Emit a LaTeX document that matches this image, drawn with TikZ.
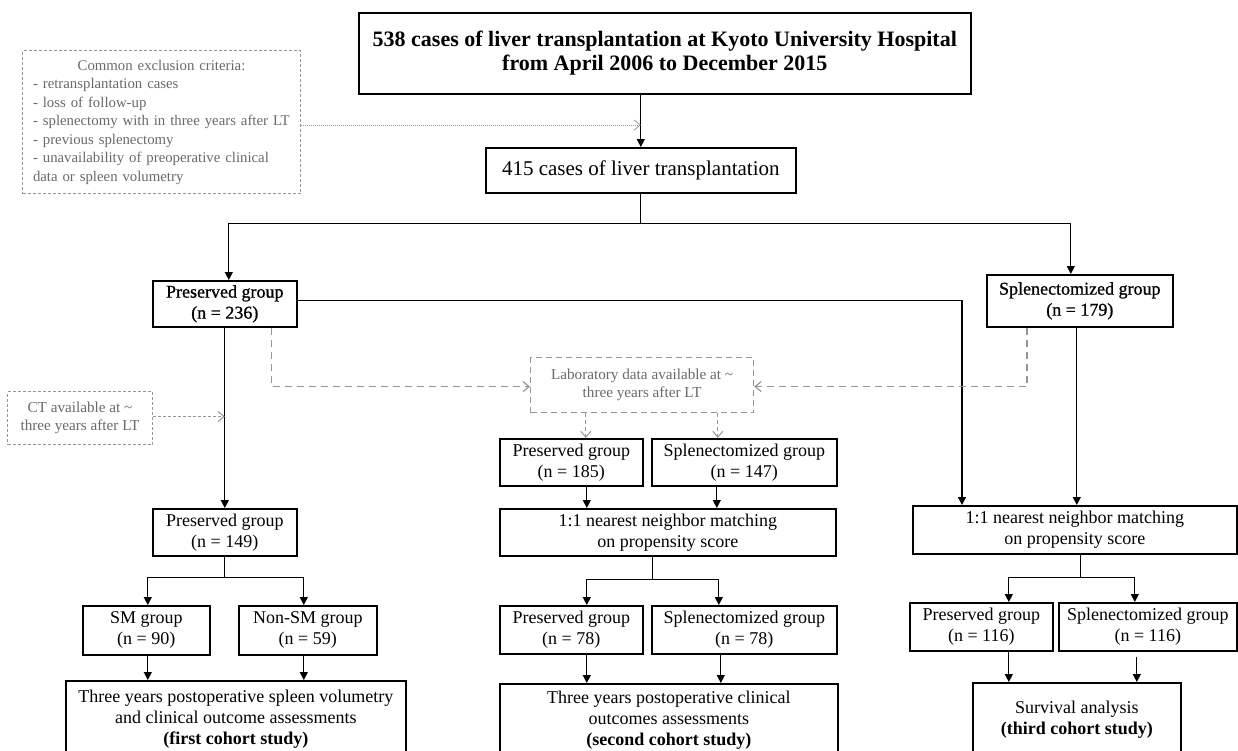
\documentclass[tikz,border=0pt]{standalone}
\usepackage{fontspec}
\setmainfont{Liberation Serif}
\newfontfamily\heavyfont[FakeBold=1.0]{Liberation Serif}
\usetikzlibrary{arrows.meta}
\definecolor{gtext}{RGB}{105,105,105}
\definecolor{gline}{RGB}{150,150,150}
\begin{document}
\begin{tikzpicture}[x=1pt,y=-1pt,
  box/.style={draw=black, line width=1.6pt, inner sep=0pt, align=center, anchor=north west,
    font=\fontsize{18}{21}\selectfont},
  gbox/.style={draw=gline, line width=1pt, inner sep=0pt, align=center, anchor=north west,
    text=gtext, font=\fontsize{15.2}{18}\selectfont},
  arr/.style={line width=1.3pt, -{Triangle[width=8pt,length=8pt]}},
  garr/.style={draw=gline, line width=1.2pt, -{Straight Barb[width=10pt,length=6pt]}},
]
\clip (0,0) rectangle (1238,750);
\useasboundingbox (0,0) rectangle (1238,750);

% nodes
\node[box, minimum width=612pt, minimum height=81pt, font=\fontsize{22}{24}\selectfont\bfseries] (top) at (358,12)
  {538 cases of liver transplantation at Kyoto University Hospital\\from April 2006 to December 2015};
\node[box, minimum width=310pt, minimum height=45pt, font=\fontsize{21}{22}\selectfont] (n415) at (485,147)
  {415 cases of liver transplantation};
\node[gbox, dash pattern=on 3pt off 2pt, minimum width=278pt, minimum height=143pt, text width=257pt, align=left,
  font=\fontsize{14.8}{18.5}\selectfont] (excl) at (22,50)
  {\makebox[\linewidth]{Common exclusion criteria:}\\
   - retransplantation cases\\
   - loss of follow-up\\
   - splenectomy with in three years after LT\\
   - previous splenectomy\\
   - unavailability of preoperative clinical\\
   data or spleen volumetry};
\node[box, minimum width=144pt, minimum height=46pt, font=\fontsize{18}{21}\heavyfont] (p236) at (152,280)
  {Preserved group\\(n = 236)};
\node[box, minimum width=186pt, minimum height=52pt, font=\fontsize{18}{21}\heavyfont] (s179) at (986,274)
  {Splenectomized group\\(n = 179)};
\node[gbox, dash pattern=on 6pt off 4pt, line width=1.2pt, minimum width=223pt, minimum height=55pt] (lab) at (530,357)
  {Laboratory data available at \char`\~\\three years after LT};
\node[gbox, dash pattern=on 3pt off 2pt, minimum width=145pt, minimum height=53pt] (ct) at (7,391)
  {CT available at \char`\~\\three years after LT};
\node[box, minimum width=143pt, minimum height=47pt] (p185) at (499,438) {Preserved group\\(n = 185)};
\node[box, minimum width=185pt, minimum height=47pt] (s147) at (651,438) {Splenectomized group\\(n = 147)};
\node[box, minimum width=336pt, minimum height=47pt] (m2) at (499,508) {1:1 nearest neighbor matching\\on propensity score};
\node[box, minimum width=144pt, minimum height=47pt] (p149) at (152,508) {Preserved group\\(n = 149)};
\node[box, minimum width=324pt, minimum height=48pt] (m3) at (912,505) {1:1 nearest neighbor matching\\on propensity score};
\node[box, minimum width=127pt, minimum height=49pt] (sm) at (82,605) {SM group\\(n = 90)};
\node[box, minimum width=138pt, minimum height=49pt] (nsm) at (238,605) {Non-SM group\\(n = 59)};
\node[box, minimum width=143pt, minimum height=48pt] (p78) at (499,605) {Preserved group\\(n = 78)};
\node[box, minimum width=185pt, minimum height=48pt] (s78) at (651,605) {Splenectomized group\\(n = 78)};
\node[box, minimum width=143pt, minimum height=48pt] (p116) at (909,602) {Preserved group\\(n = 116)};
\node[box, minimum width=178pt, minimum height=48pt] (s116) at (1058,602) {Splenectomized group\\(n = 116)};
\node[box, minimum width=340pt, minimum height=76pt] (f1) at (65,680)
  {Three years postoperative spleen volumetry\\and clinical outcome assessments\\\textbf{(first cohort study)}};
\node[box, minimum width=338pt, minimum height=72pt] (f2) at (499,683)
  {Three years postoperative clinical\\outcomes assessments\\\textbf{(second cohort study)}};
\node[box, minimum width=208pt, minimum height=73pt] (f3) at (972,682)
  {Survival analysis\\\textbf{(third cohort study)}};

% connectors
\draw[arr] (top.south -| n415.north) -- (n415.north);
\draw[garr, line width=0.8pt, dash pattern=on 1pt off 1pt] ([yshift=-3pt]excl.east) -- ([yshift=-3pt]excl.east -| n415.north);
\coordinate (b1) at ([yshift=-30pt]n415.south);
\draw[line width=1.3pt] (n415.south) -- (b1);
\draw[arr] (b1) -| ([xshift=4pt]p236.north);
\draw[arr] (b1) -| ([xshift=-9pt]s179.north);
\draw[arr] ([yshift=3pt]p236.east) -| ([xshift=50pt]m3.north west);
\draw[arr] ([xshift=-3pt]s179.south) -- ([xshift=-3pt]s179.south |- m3.north);
\draw[garr, dash pattern=on 7pt off 5pt] ([xshift=-26pt]p236.south east) |- ([yshift=-1.5pt]lab.west);
\draw[garr, dash pattern=on 7pt off 5pt] ([xshift=41pt]s179.south west) |- ([yshift=-1.5pt]lab.east);
\draw[garr, line width=1pt, dash pattern=on 4pt off 3pt] ([xshift=14.5pt]p185.north |- lab.south) -- ([xshift=14.5pt]p185.north);
\draw[garr, line width=1pt, dash pattern=on 4pt off 3pt] ([xshift=-26.5pt]s147.north |- lab.south) -- ([xshift=-26.5pt]s147.north);
\draw[arr] ([xshift=15.5pt]p185.south) -- ([xshift=15.5pt]p185.south |- m2.north);
\draw[arr] ([xshift=-27.5pt]s147.south) -- ([xshift=-27.5pt]s147.south |- m2.north);
\coordinate (b2) at ([xshift=-15pt,yshift=-23pt]m2.south);
\draw[line width=1.3pt] ([xshift=-15pt]m2.south) -- (b2);
\draw[arr] (b2) -| ([xshift=15.5pt]p78.north);
\draw[arr] (b2) -| ([xshift=-25.5pt]s78.north);
\draw[arr] ([xshift=15.5pt]p78.south) -- ([xshift=15.5pt]p78.south |- f2.north);
\draw[arr] ([xshift=-23.5pt]s78.south) -- ([xshift=-23.5pt]s78.south |- f2.north);
% left column
\draw[arr] (p236.south) -- (p149.north);
\draw[garr, line width=1pt, dash pattern=on 3pt off 2pt] ([yshift=1.5pt]ct.east) -- ([yshift=1.5pt]ct.east -| p236.south);
\coordinate (b3) at ([yshift=-21pt]p149.south);
\draw[line width=1.3pt] (p149.south) -- (b3);
\draw[arr] (b3) -| ([xshift=1.5pt]sm.north);
\draw[arr] (b3) -| ([xshift=-4pt]nsm.north);
\draw[arr] ([xshift=1.5pt]sm.south) -- ([xshift=1.5pt]sm.south |- f1.north);
\draw[arr] ([xshift=-4pt]nsm.south) -- ([xshift=-4pt]nsm.south |- f1.north);
% right column
\coordinate (b4) at ([xshift=6pt,yshift=-23pt]m3.south);
\draw[line width=1.3pt] ([xshift=6pt]m3.south) -- (b4);
\draw[arr] (b4) -| ([xshift=27.5pt]p116.north);
\draw[arr] (b4) -| ([xshift=-13pt]s116.north);
\draw[arr] ([xshift=27.5pt]p116.south) -- ([xshift=27.5pt]p116.south |- f3.north);
\draw[arr] ([xshift=-11pt,yshift=-5pt]s116.south) -- ([xshift=-11pt]s116.south |- f3.north);
\end{tikzpicture}
\end{document}
